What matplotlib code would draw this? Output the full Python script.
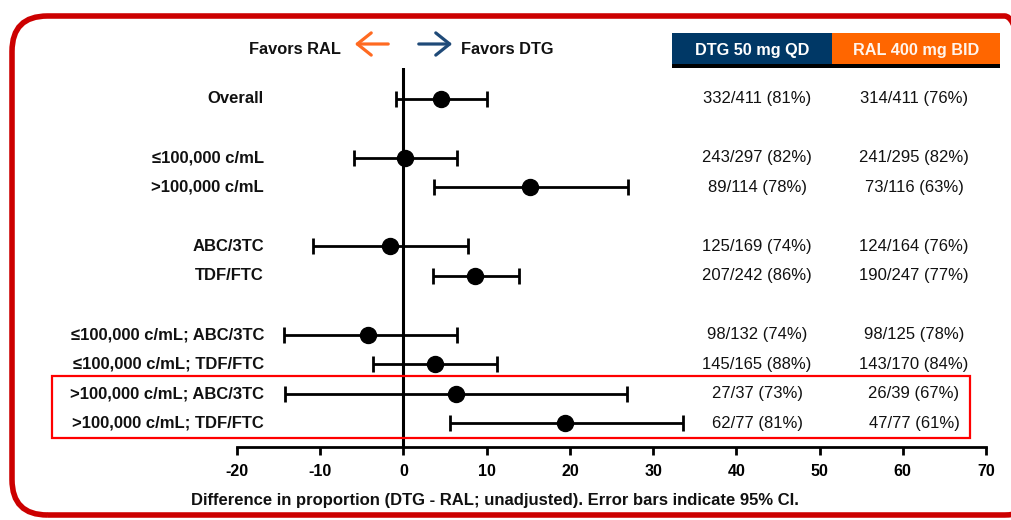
import matplotlib
matplotlib.use("Agg")
import matplotlib.pyplot as plt
from matplotlib.patches import FancyBboxPatch, Rectangle, FancyArrowPatch
import matplotlib.transforms as mtransforms

plt.rcParams['font.family'] = ['Liberation Sans', 'DejaVu Sans']
plt.rcParams['axes.unicode_minus'] = False

labels = ["Overall", "≤100,000 c/mL", ">100,000 c/mL", "ABC/3TC", "TDF/FTC",
          "≤100,000 c/mL; ABC/3TC", "≤100,000 c/mL; TDF/FTC",
          ">100,000 c/mL; ABC/3TC", ">100,000 c/mL; TDF/FTC"]
rows = [0, 2, 3, 5, 6, 8, 9, 10, 11]
diff = [4.5, 0.2, 15.2, -1.6, 8.6, -4.2, 3.8, 6.3, 19.4]
ci_low = [-0.9, -6.0, 3.7, -10.9, 3.5, -14.4, -3.6, -14.2, 5.6]
ci_high = [10.0, 6.4, 27.0, 7.7, 13.9, 6.4, 11.3, 26.9, 33.6]
dtg = ["332/411 (81%)", "243/297 (82%)", "89/114 (78%)", "125/169 (74%)", "207/242 (86%)",
       "98/132 (74%)", "145/165 (88%)", "27/37 (73%)", "62/77 (81%)"]
ral = ["314/411 (76%)", "241/295 (82%)", "73/116 (63%)", "124/164 (76%)", "190/247 (77%)",
       "98/125 (78%)", "143/170 (84%)", "26/39 (67%)", "47/77 (61%)"]
xticks = [-20, -10, 0, 10, 20, 30, 40, 50, 60, 70]

W, H = 1011, 520
fig = plt.figure(figsize=(W / 100, H / 100), dpi=100)

def fx(px):
    return px / W

def fy(py):
    return 1 - py / H

# outer rounded frame
frame = FancyBboxPatch((fx(12), fy(515)), fx(1040) - fx(12), fy(16) - fy(515),
                       boxstyle="round,pad=0,rounding_size=0.035",
                       transform=fig.transFigure, fill=False, ec="#CC0000", lw=4.0,
                       mutation_aspect=W / H, clip_on=False)
fig.patches.append(frame)

ax = fig.add_axes([fx(237), fy(447), fx(986) - fx(237), fy(68) - fy(447)])
ax.set_xlim(-20, 70)
ax.set_ylim(11.8, -1.05)

ax.axvline(0, color="black", lw=2.2, zorder=1)

lo = [d - l for d, l in zip(diff, ci_low)]
hi = [h - d for d, h in zip(diff, ci_high)]
ax.errorbar(diff, rows, xerr=[lo, hi], fmt="o", color="black", ms=11.5,
            elinewidth=2.0, capsize=5.8, capthick=2.0, zorder=3)

for s in ["top", "right", "left"]:
    ax.spines[s].set_visible(False)
ax.spines["bottom"].set_linewidth(2.0)
ax.set_yticks([])
ax.set_xticks(xticks)
ax.tick_params(axis="x", direction="out", length=6, width=2.0, pad=6)
for lab in ax.get_xticklabels():
    lab.set_fontweight("bold")
    lab.set_fontsize(11.5)

fig.text(fx(495), fy(500),
         "Difference in proportion (DTG - RAL; unadjusted). Error bars indicate 95% CI.",
         ha="center", va="center", fontsize=12, fontweight="bold", color="#111111")

trans = mtransforms.blended_transform_factory(fig.transFigure, ax.transData)
for r, lab, d, ra in zip(rows, labels, dtg, ral):
    fig.text(fx(264), r, lab, transform=trans, ha="right", va="center",
             fontsize=12, fontweight="bold", color="#111111")
    fig.text(fx(757), r, d, transform=trans, ha="center", va="center",
             fontsize=12, color="#111111")
    fig.text(fx(914), r, ra, transform=trans, ha="center", va="center",
             fontsize=12, color="#111111")

# highlight box
fig.patches.append(Rectangle((fx(52), fy(438)), fx(970) - fx(52), fy(376) - fy(438),
                             transform=fig.transFigure, fill=False, ec="#FF0000", lw=1.6))

# header boxes
fig.patches.append(Rectangle((fx(672), fy(64)), fx(832) - fx(672), fy(33) - fy(64),
                             transform=fig.transFigure, fc="#003866", ec="none"))
fig.patches.append(Rectangle((fx(832), fy(64)), fx(1000) - fx(832), fy(33) - fy(64),
                             transform=fig.transFigure, fc="#FF6600", ec="none"))
fig.patches.append(Rectangle((fx(672), fy(68)), fx(1000) - fx(672), fy(64) - fy(68),
                             transform=fig.transFigure, fc="black", ec="none"))
fig.text(fx(752), fy(50), "DTG 50 mg QD", ha="center", va="center", color="white",
         fontsize=11.7, fontweight="bold")
fig.text(fx(916), fy(50), "RAL 400 mg BID", ha="center", va="center", color="#FFF4EC",
         fontsize=11.7, fontweight="bold")

# favors arrows
fig.text(fx(341), fy(50), "Favors RAL", ha="right", va="center", fontsize=11.8,
         fontweight="bold", color="#111111")
fig.text(fx(461), fy(50), "Favors DTG", ha="left", va="center", fontsize=11.8,
         fontweight="bold", color="#111111")
fig.patches.append(FancyArrowPatch(
    (fx(391), fy(44)), (fx(352), fy(44)), transform=fig.transFigure,
    arrowstyle="->,head_length=10,head_width=8", color="#FF6A21", lw=2.3,
    mutation_scale=1))
fig.patches.append(FancyArrowPatch(
    (fx(416), fy(44)), (fx(455), fy(44)), transform=fig.transFigure,
    arrowstyle="->,head_length=10,head_width=8", color="#1F4A78", lw=2.3,
    mutation_scale=1))

fig.savefig("out.png", dpi=100)
